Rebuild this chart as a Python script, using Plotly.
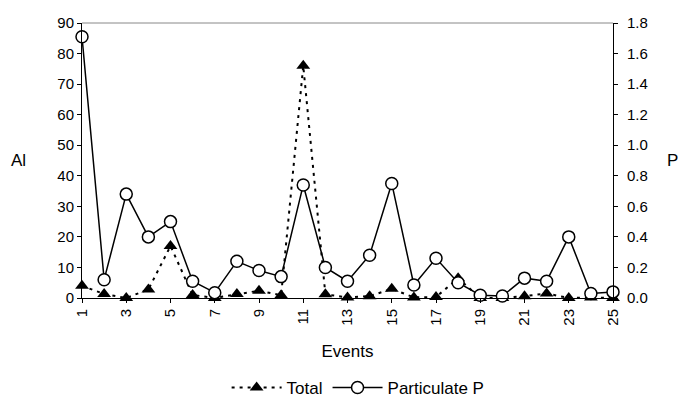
import plotly.graph_objects as go

events = list(range(1, 26))
total = [4, 1.3, 0, 2.8, 17, 1, 0, 1.3, 2.4, 0.9, 76, 1.2, 0.2, 0.6, 3.0,
         0.2, 0.3, 6.5, 0, 0, 0.6, 1.5, 0, 0.2, 0]
particulate_p = [1.71, 0.12, 0.68, 0.40, 0.50, 0.11, 0.035, 0.24, 0.18, 0.14,
                 0.74, 0.20, 0.11, 0.28, 0.75, 0.085, 0.26, 0.10, 0.018, 0.013,
                 0.13, 0.11, 0.40, 0.03, 0.04]
left_ticks = list(range(0, 91, 10))
right_ticks = [i / 5 for i in range(0, 10)]
x_ticks = list(range(1, 26, 2))

font = dict(family="Liberation Sans, Arial, sans-serif", size=15, color="black")
big = dict(family="Liberation Sans, Arial, sans-serif", size=17, color="black")

fig = go.Figure()
fig.add_trace(go.Scatter(
    x=events, y=total, name="Total", mode="lines+markers",
    line=dict(color="black", width=2, dash="3px,5px"),
    marker=dict(symbol="triangle-up", size=12, color="black"),
    yaxis="y", cliponaxis=False))
fig.add_trace(go.Scatter(
    x=events, y=particulate_p, name="Particulate P", mode="lines+markers",
    line=dict(color="black", width=1.5),
    marker=dict(symbol="circle", size=12, color="white", line=dict(color="black", width=1.5)),
    yaxis="y2", cliponaxis=False))

fig.update_layout(
    width=678, height=405,
    margin=dict(l=82, r=65, t=23, b=107, autoexpand=False),
    paper_bgcolor="white", plot_bgcolor="white",
    font=font,
    showlegend=True,
    legend=dict(orientation="h", x=0.52, xanchor="center", y=-0.327, yanchor="middle",
                font=big, tracegroupgap=0, itemwidth=50),
    xaxis=dict(range=[1, 25], tickvals=x_ticks, ticktext=[str(v) for v in x_ticks],
               tickangle=-90, showline=True, linecolor="black", linewidth=1,
               mirror=False, ticks="outside", ticklen=4, tickcolor="black",
               showgrid=False, zeroline=False, automargin=False,
               title=dict(text="Events", standoff=20, font=big)),
    yaxis=dict(range=[0, 90], tickvals=left_ticks, showline=True, linecolor="black",
               linewidth=1, ticks="outside", ticklen=4, tickcolor="black",
               showgrid=False, zeroline=False, automargin=False),
    yaxis2=dict(range=[0, 1.8], tickvals=right_ticks,
                ticktext=["%.1f" % v for v in right_ticks],
                overlaying="y", side="right", showline=True, linecolor="black",
                linewidth=1, ticks="outside", ticklen=4, tickcolor="black",
                ticklabelstandoff=6,
                showgrid=False, zeroline=False, automargin=False),
    shapes=[dict(type="line", xref="paper", yref="paper", x0=0, x1=1, y0=1, y1=1,
                 line=dict(color="#888", width=1))],
    annotations=[
        dict(text="Al", xref="paper", yref="paper", x=-0.138, y=0.5, xanchor="left",
             showarrow=False, font=big),
        dict(text="P", xref="paper", yref="paper", x=1.097, y=0.5, xanchor="left",
             showarrow=False, font=big),
    ],
)

fig.write_html("out.html")
